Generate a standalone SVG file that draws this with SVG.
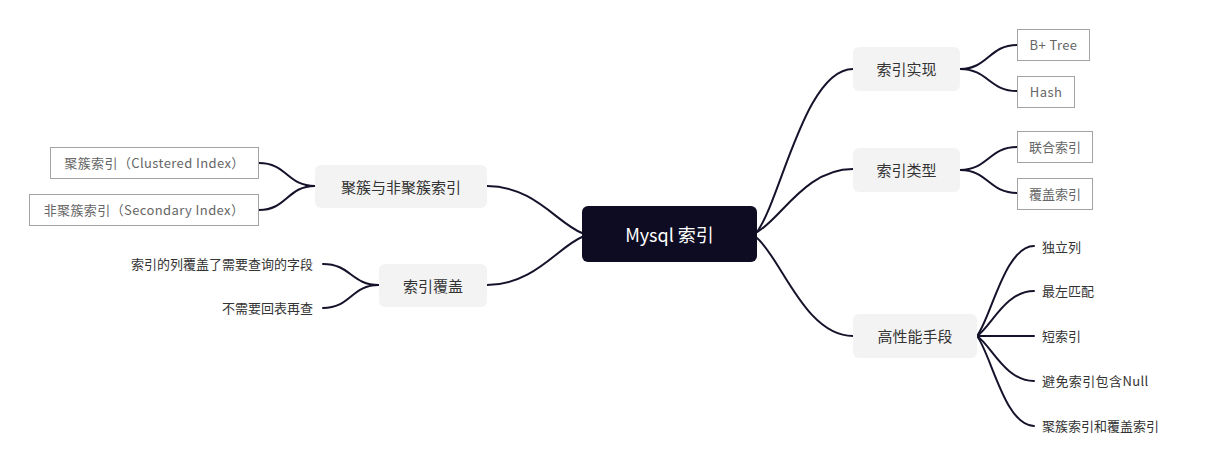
<svg xmlns="http://www.w3.org/2000/svg" width="1206" height="470" viewBox="0 0 1206 470">
<style>
text{font-family:"Noto Sans CJK SC","Noto Sans",sans-serif;dominant-baseline:central}
.root{fill:#0e0c22}
.rt{fill:#ffffff;font-size:18px;text-anchor:middle}
.sub{fill:#f3f3f4}
.st{fill:#333333;font-size:15px;text-anchor:middle}
.leaf{fill:#ffffff;stroke:#a3a3a3;stroke-width:1}
.lt{fill:#666666;font-size:13px;text-anchor:middle}
.lat{letter-spacing:0.4px}
.pt{fill:#333333;font-size:13px}
.c{fill:none;stroke:#15132b;stroke-width:2;stroke-linecap:round}
</style>
<rect width="1206" height="470" fill="#ffffff"/>
<g id="connectors">
<path class="c" d="M757,232 C781,199 805,69 853,69"/>
<path class="c" d="M757,232 C781,219 805,169 853,169"/>
<path class="c" d="M757,238 C781,258 805,336 853,336"/>
<path class="c" d="M582,233 C558,224 534,186 487,186"/>
<path class="c" d="M582,237 C558,247 534,285 487,285"/>
<path class="c" d="M960,69 C988,69 989,45 1017,45"/>
<path class="c" d="M960,69 C988,69 989,91 1017,91"/>
<path class="c" d="M960,170 C988,170 989,147 1017,147"/>
<path class="c" d="M960,170 C988,170 989,193 1017,193"/>
<path class="c" d="M315,186 C287,186 287,163 259,163"/>
<path class="c" d="M315,186 C287,186 287,210 259,210"/>
<path class="c" d="M379,285 C351,285 351,264 323,264"/>
<path class="c" d="M379,285 C351,285 351,308 323,308"/>
<path class="c" d="M977,336 C991,318 1005,246 1034,246"/>
<path class="c" d="M977,336 C991,327 1005,291 1034,291"/>
<path class="c" d="M977,336 L1034,336"/>
<path class="c" d="M977,336 C991,345 1005,381 1034,381"/>
<path class="c" d="M977,336 C991,354 1005,426 1034,426"/>
</g>
<g id="root"><rect class="root" x="582" y="206" width="175" height="56" rx="6"/><text class="rt" x="669.5" y="233.5">Mysql 索引</text></g>
<g id="n-impl"><rect class="sub" x="853" y="47" width="107" height="44" rx="6"/><text class="st" x="906.5" y="68.5">索引实现</text></g>
<g id="n-type"><rect class="sub" x="853" y="148" width="107" height="44" rx="6"/><text class="st" x="906.5" y="169.5">索引类型</text></g>
<g id="n-perf"><rect class="sub" x="853" y="314" width="124" height="44" rx="6"/><text class="st" x="915" y="335.5">高性能手段</text></g>
<g id="n-cluster"><rect class="sub" x="315" y="165" width="172" height="43" rx="6"/><text class="st" x="401" y="186">聚簇与非聚簇索引</text></g>
<g id="n-cover"><rect class="sub" x="379" y="264" width="108" height="43" rx="6"/><text class="st" x="433" y="285">索引覆盖</text></g>
<g id="l-btree"><rect class="leaf" x="1017.5" y="29.5" width="72" height="31"/><text class="lt lat" x="1053.5" y="44.5">B+ Tree</text></g>
<g id="l-hash"><rect class="leaf" x="1017.5" y="76.5" width="57" height="31"/><text class="lt lat" x="1046" y="91.5">Hash</text></g>
<g id="l-union"><rect class="leaf" x="1017.5" y="131.5" width="75" height="31"/><text class="lt" x="1055" y="146.5">联合索引</text></g>
<g id="l-coverindex"><rect class="leaf" x="1017.5" y="178.5" width="75" height="31"/><text class="lt" x="1055" y="193.5">覆盖索引</text></g>
<g id="l-clustered"><rect class="leaf" x="50.5" y="147.5" width="208" height="31"/><text class="lt lat" x="154.5" y="162.5">聚簇索引（Clustered Index）</text></g>
<g id="l-secondary"><rect class="leaf" x="29.5" y="194.5" width="229" height="31"/><text class="lt lat" x="144" y="209.5">非聚簇索引（Secondary Index）</text></g>
<g id="t-cover1"><text class="pt" x="313" y="263.5" text-anchor="end">索引的列覆盖了需要查询的字段</text></g>
<g id="t-cover2"><text class="pt" x="313" y="307.5" text-anchor="end">不需要回表再查</text></g>
<g id="t-p1"><text class="pt" x="1042" y="246.5">独立列</text></g>
<g id="t-p2"><text class="pt" x="1042" y="290.5">最左匹配</text></g>
<g id="t-p3"><text class="pt" x="1042" y="335.5">短索引</text></g>
<g id="t-p4"><text class="pt lat" x="1042" y="380.5">避免索引包含Null</text></g>
<g id="t-p5"><text class="pt" x="1042" y="425.5">聚簇索引和覆盖索引</text></g>
</svg>
